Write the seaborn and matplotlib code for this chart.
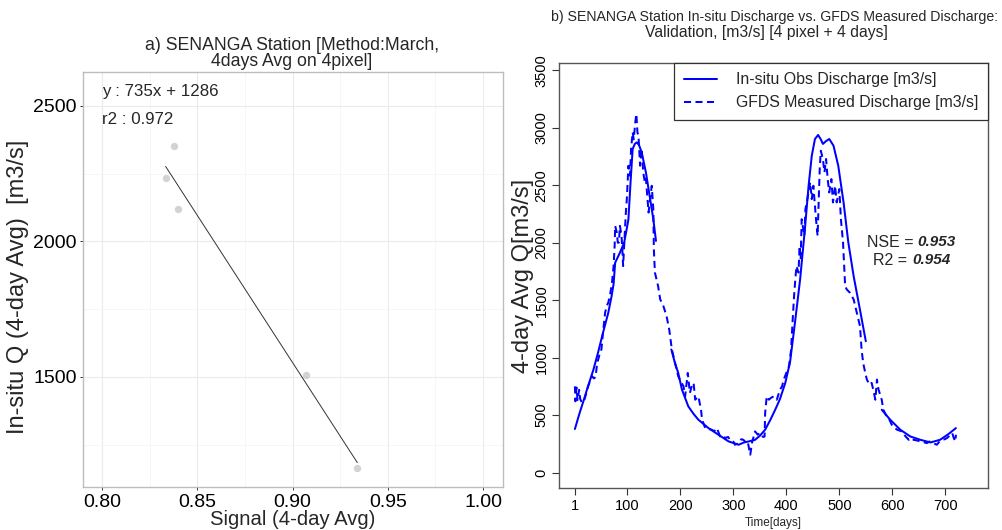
import numpy as np
import pandas as pd
import matplotlib
matplotlib.use('Agg')
import matplotlib.pyplot as plt
import seaborn as sns
from matplotlib.lines import Line2D

# panel a: calibration points
signal = [0.8376, 0.8334, 0.8397, 0.9069, 0.9340]
insitu_q = [2353, 2234, 2120, 1508, 1163]

# panel b: in-situ observed discharge (NaN = missing)
obs_days = [1, 10, 17, 25, 36, 45, 54, 64, 70, 74, 77, 86, 94, 100, 102, 106, 110, 114, 118, 122,
            127, 135, 141, 149, 154, 160,
            183, 190, 196, 203, 215, 225, 234, 253, 272, 291, 310, 320, 329, 341, 350, 360, 370, 379,
            388, 398, 407, 417, 426, 435, 442, 448, 454, 460, 465, 469, 475, 481, 489, 498, 508, 517,
            527, 540, 550, 560,
            580, 596, 615, 634, 653, 672, 690, 706, 720]
obs_q = [379, 520, 620, 740, 896, 1050, 1216, 1391, 1530, 1640, 1827, 1914, 2002, 2150, 2205, 2525, 2816, 2860, 2874, 2850,
         2787, 2613, 2438, 2205, 2016, np.nan,
         1071, 950, 867, 722, 576, 510, 460, 387, 329, 271, 242, 262, 271, 285, 320, 373, 460, 547,
         640, 780, 960, 1332, 1681, 2118, 2496, 2757, 2903, 2938, 2900, 2860, 2885, 2903, 2845, 2670, 2351, 2002,
         1710, 1391, 1143, np.nan,
         547, 460, 373, 314, 285, 262, 285, 335, 387]

# panel b: GFDS measured discharge
gfds_days = [1, 2, 4, 6, 9, 11, 14, 18, 20, 23, 26, 30, 33, 37, 40, 43, 46, 48, 51, 54, 58, 61, 64, 67, 71,
             74, 76, 77, 80, 82, 84, 86, 89, 91, 92, 94, 97, 99, 102, 105, 107, 110, 112, 115, 117, 119,
             121, 124, 127, 130, 133, 135, 137, 140, 143, 146, 149, 150, 152, 158, 162, 168, 174, 179, 184,
             190, 196, 200, 206, 209, 214, 218, 222, 225, 228, 234, 239, 241, 247, 253, 259, 264, 269, 275,
             280, 285, 290, 294, 300, 303, 310, 315, 319, 324, 327, 332, 335, 341, 346, 351, 356, 359, 360,
             363, 367, 371, 376, 382, 388, 392, 395, 401, 405, 409, 412, 415, 419, 423, 425, 427, 429, 434,
             436, 439, 442, 445, 448, 451, 454, 456, 459, 461, 463, 465, 469, 472, 475, 478, 481, 485, 488,
             492, 495, 500, 503, 507, 511, 514, 520, 527, 533, 539, 542, 545, 549, 552, 557, 561, 564, 568,
             571, 574, 580, 583, 588, 593, 599, 604, 609, 614, 618, 624, 631, 636, 640, 646, 653, 659, 665,
             670, 675, 680, 684, 689, 694, 699, 703, 708, 713, 716, 719, 720]
gfds_q = [750, 620, 740, 630, 720, 640, 610, 620, 650, 700, 750, 800, 840, 820, 830, 954, 1000, 1042, 1071, 1216,
          1391, 1449, 1480, 1536, 1652, 1797, 1972, 2147, 2089, 2000, 2002, 2147, 2060, 1900, 1797, 1972, 2250,
          2380, 2670, 2583, 2816, 2962, 2900, 3049, 3121, 2960, 2932, 2670, 2816, 2613, 2525, 2560, 2438, 2263,
          2380, 2496, 2292, 1943, 1740, 1623, 1507, 1449, 1361, 1245, 1071, 954, 838, 800, 750, 663, 867, 693,
          760, 780, 634, 663, 547, 460, 387, 380, 373, 360, 387, 314, 320, 300, 310, 285, 270, 242, 256, 290,
          285, 260, 271, 155, 256, 358, 330, 344, 310, 314, 518, 663, 634, 650, 663, 634, 722, 750, 809, 880,
          925, 1071, 1332, 1565, 1797, 1740, 1972, 1856, 2205, 2060, 2292, 2365, 2438, 2525, 2380, 2496, 2321,
          2205, 2060, 2351, 2641, 2801, 2729, 2613, 2729, 2554, 2438, 2554, 2351, 2496, 2351, 2467, 2205, 2002,
          1623, 1594, 1565, 1507, 1391, 1274, 1071, 954, 867, 809, 765, 780, 722, 634, 809, 722, 634, 547, 500,
          474, 416, 390, 373, 365, 358, 320, 285, 300, 285, 280, 271, 265, 256, 270, 262, 250, 242, 270, 285,
          290, 300, 320, 344, 300, 271, 329]


def to_segments(days, vals):
    df = pd.DataFrame({'day': days, 'q': vals})
    df['seg'] = df['q'].isna().cumsum()
    return df.dropna()


obs_df = to_segments(obs_days, obs_q)
gfds_df = to_segments(gfds_days, gfds_q)

sns.set_theme(style='white')
plt.rcParams['font.family'] = ['Liberation Sans', 'DejaVu Sans']

W, H = 1002, 530
fig = plt.figure(figsize=(W / 100, H / 100), dpi=100)

# ---------- panel a ----------
ax1 = fig.add_axes([83 / W, (H - 487) / H, 420 / W, 415 / H])
sns.regplot(x=signal, y=insitu_q, ax=ax1, ci=None, truncate=True,
            scatter_kws=dict(color='#C8C8C8', s=28, linewidths=0, zorder=3),
            line_kws=dict(color='#333333', lw=0.7))
ax1.set_xlim(0.790, 1.0105)
ax1.set_ylim(1094, 2625)
ax1.set_xticks([0.80, 0.85, 0.90, 0.95, 1.00])
ax1.set_xticklabels(['0.80', '0.85', '0.90', '0.95', '1.00'])
ax1.set_xticks([0.825, 0.875, 0.925, 0.975], minor=True)
ax1.set_yticks([1500, 2000, 2500])
ax1.set_yticks([1250, 1750, 2250], minor=True)
ax1.grid(which='major', color='#EBEBEB', lw=0.8)
ax1.grid(which='minor', color='#F5F5F5', lw=0.6)
ax1.set_axisbelow(True)
for s in ax1.spines.values():
    s.set_color('#BDBDBD')
    s.set_linewidth(1.0)
ax1.tick_params(which='major', direction='out', length=2.5, width=0.7, color='#333333',
                labelsize=14, pad=2, bottom=True, left=True, labelcolor='black')
ax1.tick_params(axis='x', pad=2.5)
ax1.tick_params(which='minor', length=0)
ax1.set_xlabel('Signal (4-day Avg)', fontsize=14.6)
ax1.set_ylabel('In-situ Q (4-day Avg)  [m3/s]', fontsize=17)
ax1.xaxis.label.set_va('center')
ax1.xaxis.set_label_coords(0.5, (487 - 519.5) / 415)
ax1.yaxis.label.set_va('center')
ax1.yaxis.set_label_coords((18 - 83) / 420, (487 - 287) / 415)
ax1.text(0.7998, 2553, 'y : 735x + 1286', fontsize=12.2, va='center', ha='left')
ax1.text(0.7998, 2451, 'r2 : 0.972', fontsize=12.2, va='center', ha='left')
fig.text(292 / W, 1 - 53.5 / H, 'a) SENANGA Station [Method:March,\n4days Avg on 4pixel]',
         ha='center', va='center', fontsize=12.7, linespacing=0.92)

# ---------- panel b ----------
ax2 = fig.add_axes([559 / W, (H - 488.3) / H, 428.7 / W, 425.6 / H])
dash = (0, (3.5, 2.2))
sns.lineplot(data=obs_df, x='day', y='q', units='seg', estimator=None, sort=False,
             color='blue', lw=1.45, ax=ax2)
sns.lineplot(data=gfds_df, x='day', y='q', units='seg', estimator=None, sort=False,
             color='blue', lw=1.45, linestyle=dash, ax=ax2)
ax2.set_xlim(-29, 780)
ax2.set_ylim(-137, 3567)
ax2.set_xticks([1, 100, 200, 300, 400, 500, 600, 700])
ax2.set_xticklabels(['1', '100', '200', '300', '400', '500', '600', '700'])
yt = [0, 500, 1000, 1500, 2000, 2500, 3000, 3500]
ax2.set_yticks(yt)
ax2.set_yticklabels([str(v) for v in yt], rotation=90, va='center')
ax2.tick_params(direction='out', length=5, width=0.8, color='#333333', labelsize=10.5,
                pad=2.5, bottom=True, left=True, labelcolor='black')
for s in ax2.spines.values():
    s.set_color('#555555')
    s.set_linewidth(1.0)
ax2.set_xlabel('Time[days]', fontsize=8.5)
ax2.xaxis.label.set_va('center')
ax2.xaxis.set_label_coords(0.5, (488.3 - 522.7) / 425.6)
ax2.set_ylabel('4-day Avg Q[m3/s]', fontsize=17)
ax2.yaxis.label.set_va('center')
ax2.yaxis.set_label_coords((523 - 559) / 428.7, 0.5)

handles = [Line2D([], [], color='blue', lw=1.45),
           Line2D([], [], color='blue', lw=1.45, linestyle=dash)]
leg = ax2.legend(handles, ['In-situ Obs Discharge [m3/s]', 'GFDS Measured Discharge [m3/s]'],
                 loc='upper right', bbox_to_anchor=(1, 1), borderaxespad=0, fancybox=False,
                 frameon=True, edgecolor='#333333', framealpha=1, fontsize=11.4,
                 handlelength=2.1, handletextpad=1.2, borderpad=0.6, labelspacing=0.5)
leg.get_frame().set_linewidth(0.9)

ax2.text(639.5, 2004, 'NSE =', ha='right', va='center', fontsize=11.5)
ax2.text(647, 2004, '0.953', ha='left', va='center', fontsize=11, fontweight='bold', style='italic')
ax2.text(627.6, 1847, 'R2 =', ha='right', va='center', fontsize=11.5)
ax2.text(637, 1847, '0.954', ha='left', va='center', fontsize=11, fontweight='bold', style='italic')

fig.text(775 / W, 1 - 17 / H,
         'b) SENANGA Station In-situ Discharge vs. GFDS Measured Discharge:',
         ha='center', va='center', fontsize=10.2)
fig.text(766 / W, 1 - 33 / H, 'Validation, [m3/s] [4 pixel + 4 days]',
         ha='center', va='center', fontsize=11.3)

fig.savefig('out.png', dpi=100)
